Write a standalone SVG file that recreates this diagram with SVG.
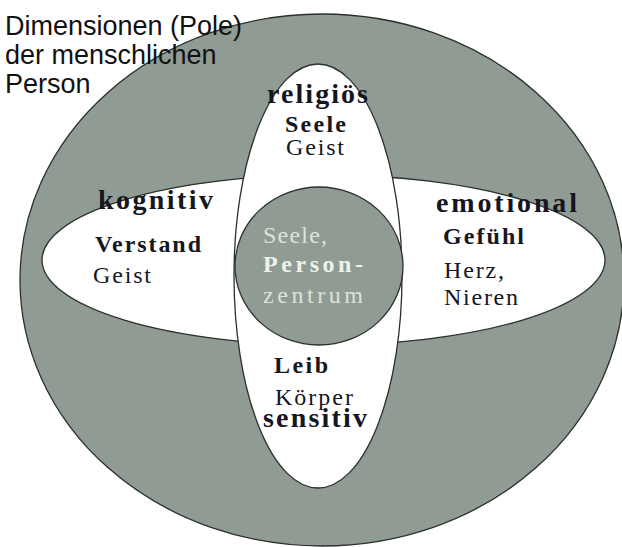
<svg xmlns="http://www.w3.org/2000/svg" width="622" height="547" viewBox="0 0 622 547">
<style>
.shape{stroke:#2b302d;stroke-width:1.3}
.gray{fill:#8f9b93}
.white{fill:#ffffff}
.title{font-family:"Liberation Sans",Arial,sans-serif;font-size:27px;fill:#111111}
.s{font-family:"Liberation Serif","Times New Roman",serif;fill:#16161e}
.h{font-size:28px;font-weight:bold}
.b{font-size:24px;font-weight:bold}
.r{font-size:24px}
.lt{fill:#dde2db}
.lb{fill:#eef1ec}
</style>
<rect width="622" height="547" fill="#ffffff"/>
<g id="person">
  <ellipse class="shape gray" cx="322" cy="280" rx="302" ry="266"/>
</g>
<g id="horizontal">
  <ellipse class="shape white" cx="323.5" cy="260" rx="281.5" ry="85"/>
</g>
<g id="vertical">
  <ellipse class="shape white" cx="318" cy="276" rx="84" ry="212"/>
</g>
<g id="center">
  <ellipse class="shape gray" cx="319" cy="266" rx="84" ry="79"/>
  <text class="s r lt" x="263" y="243" textLength="64">Seele,</text>
  <text class="s b lb" x="263" y="272" textLength="100">Person-</text>
  <text class="s r lt" x="263" y="303" textLength="100">zentrum</text>
</g>
<g id="title">
  <text class="title" x="5" y="35">Dimensionen (Pole)</text>
  <text class="title" x="5" y="64">der menschlichen</text>
  <text class="title" x="5" y="93">Person</text>
</g>
<g id="religioes">
  <text class="s h" x="267" y="103" textLength="101">religiös</text>
  <text class="s b" x="285" y="132" textLength="61">Seele</text>
  <text class="s r" x="286" y="155" textLength="58">Geist</text>
</g>
<g id="kognitiv">
  <text class="s h" x="98" y="209" textLength="115">kognitiv</text>
  <text class="s b" x="95" y="252" textLength="106">Verstand</text>
  <text class="s r" x="93" y="283" textLength="58">Geist</text>
</g>
<g id="emotional">
  <text class="s h" x="436" y="212" textLength="141">emotional</text>
  <text class="s b" x="443" y="244" textLength="81">Gefühl</text>
  <text class="s r" x="444" y="278" textLength="60">Herz,</text>
  <text class="s r" x="444" y="305" textLength="74">Nieren</text>
</g>
<g id="sensitiv">
  <text class="s b" x="274" y="373" textLength="54">Leib</text>
  <text class="s r" x="275" y="405" textLength="78">Körper</text>
  <text class="s h" x="263" y="427" textLength="104">sensitiv</text>
</g>
</svg>
